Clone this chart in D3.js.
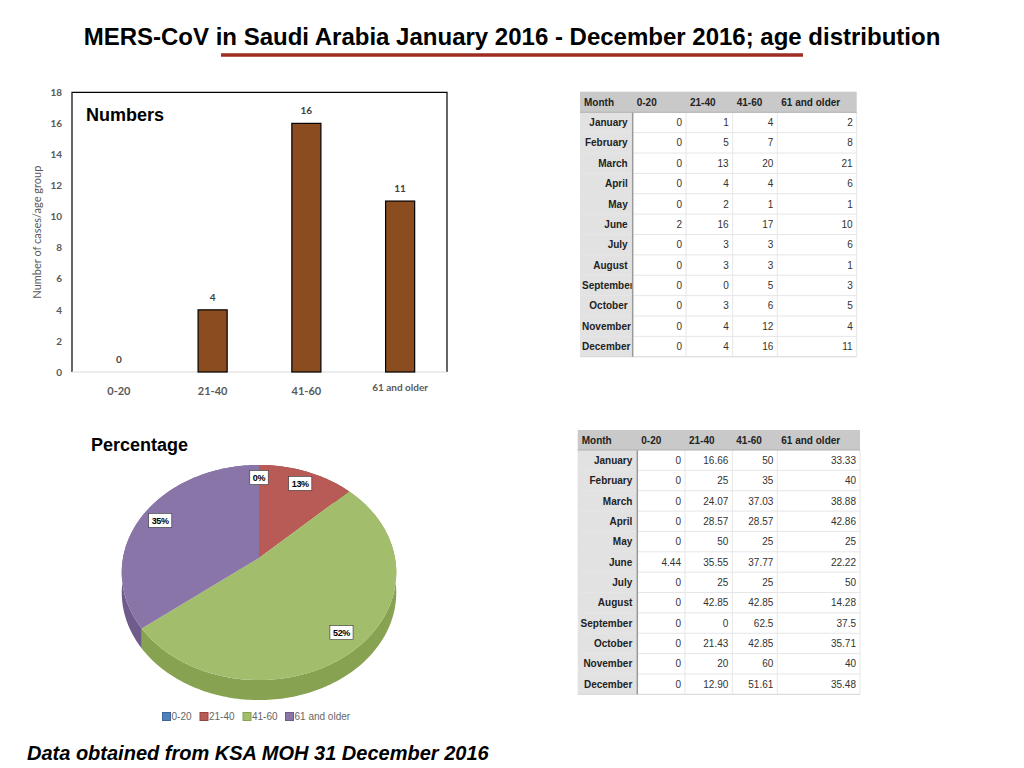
<!DOCTYPE html>
<html>
<head>
<meta charset="utf-8">
<script src="https://cdn.jsdelivr.net/npm/d3@7"></script>
<style>
  body { margin: 0; background: #fff; }
  svg { display: block; }
</style>
</head>
<body>
<div id="main"></div>
<script>
// ---- data ----
var ageGroups = ["0-20", "21-40", "41-60", "61 and older"];
var totals = [0, 4, 16, 11];
var yTicks = [0, 2, 4, 6, 8, 10, 12, 14, 16, 18];

var months = ["January", "February", "March", "April", "May", "June", "July",
  "August", "September", "October", "November", "December"];
var num020 = [0, 0, 0, 0, 0, 2, 0, 0, 0, 0, 0, 0];
var num2140 = [1, 5, 13, 4, 2, 16, 3, 3, 0, 3, 4, 4];
var num4160 = [4, 7, 20, 4, 1, 17, 3, 3, 5, 6, 12, 16];
var num61 = [2, 8, 21, 6, 1, 10, 6, 1, 3, 5, 4, 11];

var pct020 = ["0", "0", "0", "0", "0", "4.44", "0", "0", "0", "0", "0", "0"];
var pct2140 = ["16.66", "25", "24.07", "28.57", "50", "35.55", "25", "42.85", "0", "21.43", "20", "12.90"];
var pct4160 = ["50", "35", "37.03", "28.57", "25", "37.77", "25", "42.85", "62.5", "42.85", "60", "51.61"];
var pct61 = ["33.33", "40", "38.88", "42.86", "25", "22.22", "50", "14.28", "37.5", "35.71", "40", "35.48"];

var pieColors = ["#4f81bd", "#b85a55", "#a2bd6b", "#8975a8"];
var pieSide = ["#3c6699", "#96443f", "#87a352", "#6f5c8c"];

var svg = d3.select("#main").append("svg")
  .attr("width", 1024)
  .attr("height", 768);

// title
svg.append("text")
  .attr("x", 512).attr("y", 45)
  .attr("text-anchor", "middle")
  .style("font-family", "Liberation Sans, Arial, sans-serif")
  .style("font-weight", "bold")
  .style("font-size", "24px")
  .text("MERS-CoV in Saudi Arabia January 2016 - December 2016; age distribution");

svg.append("line")
  .attr("x1", 221).attr("x2", 803)
  .attr("y1", 55).attr("y2", 55)
  .style("stroke", "#9e2c20")
  .style("stroke-width", 3.5);

// ---- bar chart ----
var plot = { left: 72, right: 447, top: 92.3, bottom: 372 };

var x = d3.scaleBand()
  .domain(ageGroups)
  .range([plot.left, plot.right]);

var y = d3.scaleLinear()
  .domain([0, 18])
  .range([plot.bottom, plot.top]);

var barW = x.bandwidth() * 0.31;
var calibri = "Lato, Open Sans, sans-serif";

// frame: black left/top/right, light bottom
svg.append("path")
  .attr("d", "M" + plot.left + "," + plot.bottom + "V" + plot.top + "H" + plot.right + "V" + plot.bottom)
  .style("fill", "none")
  .style("stroke", "black")
  .style("stroke-width", 1.2);
svg.append("line")
  .attr("x1", plot.left).attr("x2", plot.right)
  .attr("y1", plot.bottom).attr("y2", plot.bottom)
  .style("stroke", "#d9d9d9");

var yAxis = svg.append("g")
  .attr("transform", "translate(" + plot.left + ",0)")
  .call(d3.axisLeft(y).tickValues(yTicks).tickSize(0).tickPadding(10));
yAxis.select(".domain").remove();
yAxis.selectAll("text")
  .style("font-family", calibri)
  .style("font-weight", "bold")
  .style("font-size", "10px")
  .style("fill", "#595959");

svg.append("text")
  .attr("transform", "translate(41," + ((plot.top + plot.bottom) / 2) + ") rotate(-90)")
  .attr("text-anchor", "middle")
  .style("font-family", calibri)
  .style("font-size", "11px")
  .style("fill", "#595959")
  .text("Number of cases/age group");

svg.selectAll(".bar")
  .data(totals)
  .enter().append("rect")
  .attr("class", "bar")
  .attr("x", function(d, i) { return x(ageGroups[i]) + (x.bandwidth() - barW) / 2; })
  .attr("y", function(d) { return y(d); })
  .attr("width", barW)
  .attr("height", function(d) { return y(0) - y(d); })
  .style("fill", "#8b4c1f")
  .style("stroke", "black")
  .style("stroke-width", 1.2);

svg.selectAll(".barlabel")
  .data(totals)
  .enter().append("text")
  .attr("class", "barlabel")
  .attr("x", function(d, i) { return x(ageGroups[i]) + x.bandwidth() / 2; })
  .attr("y", function(d) { return y(d) - 9; })
  .attr("text-anchor", "middle")
  .style("font-family", calibri)
  .style("font-weight", "bold")
  .style("font-size", "10px")
  .style("fill", "#404040")
  .text(function(d) { return d; });

svg.selectAll(".xlabel")
  .data(ageGroups)
  .enter().append("text")
  .attr("class", "xlabel")
  .attr("x", function(d) { return x(d) + x.bandwidth() / 2; })
  .attr("y", function(d, i) { return i == 3 ? 391 : 395; })
  .attr("text-anchor", "middle")
  .style("font-family", calibri)
  .style("font-weight", "bold")
  .style("font-size", function(d, i) { return i == 3 ? "10px" : "11px"; })
  .style("fill", "#595959")
  .text(function(d) { return d; });

svg.append("text")
  .attr("x", 86).attr("y", 121)
  .style("font-family", "Liberation Sans, Arial, sans-serif")
  .style("font-weight", "bold")
  .style("font-size", "18px")
  .text("Numbers");

// ---- pie (3d-ish, perspective tilt) ----
svg.append("text")
  .attr("x", 91).attr("y", 451)
  .style("font-family", "Liberation Sans, Arial, sans-serif")
  .style("font-weight", "bold")
  .style("font-size", "18px")
  .text("Percentage");

var cx = 259, cy = 558, RX = 136, RY = 105.6, D = 7.4, depth = 20;
function proj(theta, r) {
  var u = r * Math.sin(theta), v = -r * Math.cos(theta);
  var s = D / (D - v);
  return [cx + RX * u * s, cy + RY * v * s];
}

var arcs = d3.pie().sort(null).value(function(d) { return d; })(totals);
var pieG = svg.append("g");

function rimPoints(a0, a1) {
  var pts = [];
  var n = Math.max(2, Math.ceil((a1 - a0) / 0.02));
  for (var k = 0; k <= n; k++) {
    pts.push(proj(a0 + (a1 - a0) * k / n, 1));
  }
  return pts;
}

// sides first
arcs.forEach(function(a, i) {
  if (a.endAngle - a.startAngle <= 0) return;
  var pts = rimPoints(a.startAngle, a.endAngle);
  var low = pts.slice().reverse().map(function(p) { return [p[0], p[1] + depth]; });
  pieG.append("path")
    .attr("d", "M" + pts.concat(low).map(function(p) { return p.join(","); }).join("L") + "Z")
    .style("fill", pieSide[i]);
});
// top faces
arcs.forEach(function(a, i) {
  if (a.endAngle - a.startAngle <= 0) return;
  var pts = [[cx, cy]].concat(rimPoints(a.startAngle, a.endAngle));
  pieG.append("path")
    .attr("d", "M" + pts.map(function(p) { return p.join(","); }).join("L") + "Z")
    .style("fill", pieColors[i]);
});

var totalSum = d3.sum(totals);
arcs.forEach(function(a, i) {
  var mid = (a.startAngle + a.endAngle) / 2;
  var p = proj(mid, 0.85);
  var txt = Math.round(a.data / totalSum * 100) + "%";
  var lg = pieG.append("g").attr("transform", "translate(" + p[0] + "," + p[1] + ")");
  var t = lg.append("text")
    .attr("text-anchor", "middle")
    .attr("y", 3.3)
    .style("font-family", "Liberation Sans, Arial, sans-serif")
    .style("font-weight", "bold")
    .style("font-size", "9px")
    .style("letter-spacing", "-0.3px")
    .text(txt);
  var w = t.node().getComputedTextLength() + 6;
  lg.insert("rect", "text")
    .attr("x", -w / 2).attr("y", -7)
    .attr("width", w).attr("height", 14)
    .style("fill", "white")
    .style("stroke", "#333")
    .style("stroke-width", 0.6);
});

// legend
var legX = [162.5, 200, 243, 285.5];
var legend = svg.selectAll(".leg")
  .data(ageGroups)
  .enter().append("g")
  .attr("class", "leg")
  .attr("transform", function(d, i) { return "translate(" + legX[i] + ",716.5)"; });
legend.append("rect")
  .attr("x", 0).attr("y", -4)
  .attr("width", 8).attr("height", 8)
  .style("fill", function(d, i) { return pieColors[i]; })
  .style("stroke", function(d, i) { return pieSide[i]; });
legend.append("text")
  .attr("x", 9).attr("y", 3.8)
  .style("font-family", "Liberation Sans, Arial, sans-serif")
  .style("font-size", "10px")
  .style("fill", "#666")
  .text(function(d) { return d; });

// ---- tables ----
var headerRow = ["Month"].concat(ageGroups);

function drawTable(edges, y0, headH, rowH, cols) {
  var g = svg.append("g");
  var font = "Liberation Sans, Arial, sans-serif";
  var nRows = months.length;
  var yEnd = y0 + headH + nRows * rowH;

  // backgrounds
  g.append("rect")
    .attr("x", edges[0]).attr("y", y0)
    .attr("width", edges[5] - edges[0]).attr("height", headH)
    .style("fill", "#c9c9c9");
  g.append("rect")
    .attr("x", edges[0]).attr("y", y0 + headH)
    .attr("width", edges[1] - edges[0]).attr("height", nRows * rowH)
    .style("fill", "#e2e2e2");

  // grid lines
  for (var r = 1; r <= nRows; r++) {
    g.append("line")
      .attr("x1", edges[0]).attr("x2", edges[5])
      .attr("y1", y0 + headH + r * rowH).attr("y2", y0 + headH + r * rowH)
      .style("stroke", r == nRows ? "#d5d5d5" : "#e6e6e6");
  }
  for (var c = 2; c <= 5; c++) {
    g.append("line")
      .attr("x1", edges[c]).attr("x2", edges[c])
      .attr("y1", y0 + headH).attr("y2", yEnd)
      .style("stroke", "#e6e6e6");
  }
  g.append("line")
    .attr("x1", edges[1]).attr("x2", edges[1])
    .attr("y1", y0 + headH).attr("y2", yEnd)
    .style("stroke", "#9a9a9a")
    .style("stroke-width", 1.5);
  g.append("line")
    .attr("x1", edges[0]).attr("x2", edges[5])
    .attr("y1", y0 + headH).attr("y2", y0 + headH)
    .style("stroke", "#b0b0b0");

  // header
  headerRow.forEach(function(h, i) {
    g.append("text")
      .attr("x", edges[i] + 4)
      .attr("y", y0 + headH / 2 + 3.6)
      .style("font-family", font)
      .style("font-weight", "bold")
      .style("font-size", "10px")
      .style("fill", "#222")
      .text(h);
  });

  // rows
  months.forEach(function(m, r) {
    var ty = y0 + headH + r * rowH + rowH / 2 + 3.6;
    var mt = g.append("text")
      .attr("x", edges[1] - 5)
      .attr("y", ty)
      .attr("text-anchor", "end")
      .style("font-family", font)
      .style("font-weight", "bold")
      .style("font-size", "10px")
      .style("fill", "#222")
      .text(m);
    var avail = edges[1] - edges[0] - 6;
    if (mt.node().getComputedTextLength() > avail) {
      // too long: left align and cut at the cell edge
      var clipId = "clip" + Math.round(y0) + "_" + r;
      g.append("clipPath").attr("id", clipId)
        .append("rect")
        .attr("x", edges[0]).attr("y", ty - 12)
        .attr("width", edges[1] - edges[0] - 1).attr("height", 16);
      mt.attr("x", edges[0] + 2)
        .attr("text-anchor", "start")
        .attr("clip-path", "url(#" + clipId + ")");
    }
    cols.forEach(function(col, c) {
      g.append("text")
        .attr("x", edges[c + 2] - 4)
        .attr("y", ty)
        .attr("text-anchor", "end")
        .style("font-family", font)
        .style("font-size", "10px")
        .style("fill", "#333")
        .text(col[r]);
    });
  });
}

drawTable([580, 632.7, 686, 732.7, 777.3, 856.7], 91.7, 20.6, 20.37,
  [num020, num2140, num4160, num61]);
drawTable([577.7, 637.3, 685, 732.3, 777.3, 860], 430, 20, 20.36,
  [pct020, pct2140, pct4160, pct61]);

// footnote
svg.append("text")
  .attr("x", 27).attr("y", 760)
  .style("font-family", "Liberation Sans, Arial, sans-serif")
  .style("font-weight", "bold")
  .style("font-style", "italic")
  .style("font-size", "20px")
  .text("Data obtained from KSA MOH 31 December 2016");
</script>
</body>
</html>
